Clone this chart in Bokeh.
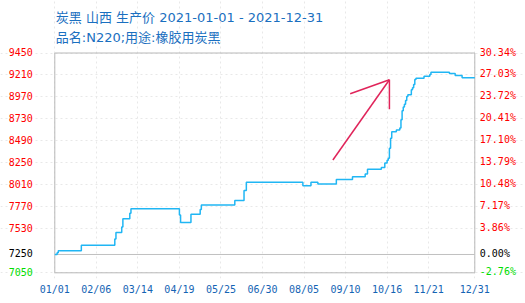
import pandas as pd
from bokeh.plotting import figure
from bokeh.models import ColumnDataSource, FixedTicker, Range1d, DatetimeTickFormatter
from bokeh.embed import file_html
from bokeh.resources import INLINE
from bokeh.core.properties import value

# ---- text ----
title_line1 = "炭黑 山西 生产价 2021-01-01 - 2021-12-31"
title_line2 = "品名:N220;用途:橡胶用炭黑"

# ---- price series (dates where the price changed, and the new price) ----
change_dates = [
    "2021-01-01", "2021-01-03", "2021-01-04", "2021-01-24", "2021-02-22", "2021-02-23",
    "2021-02-28", "2021-03-01", "2021-03-07", "2021-03-08", "2021-04-19", "2021-04-20",
    "2021-04-29", "2021-05-07", "2021-05-08", "2021-06-06", "2021-06-14", "2021-06-16",
    "2021-08-04", "2021-08-11", "2021-08-17", "2021-09-02", "2021-09-16", "2021-09-27",
    "2021-09-29", "2021-10-11", "2021-10-14", "2021-10-16", "2021-10-17", "2021-10-18",
    "2021-10-19", "2021-10-20", "2021-10-24", "2021-10-27", "2021-10-28", "2021-10-29",
    "2021-10-30", "2021-10-31", "2021-11-01", "2021-11-02", "2021-11-03", "2021-11-06",
    "2021-11-07", "2021-11-08", "2021-11-09", "2021-11-10", "2021-11-17", "2021-11-22",
    "2021-11-23", "2021-12-09", "2021-12-14", "2021-12-20",
]
change_prices = [
    7250, 7270, 7290, 7350, 7420, 7490,
    7550, 7640, 7700, 7750, 7680, 7600,
    7690, 7740, 7790, 7840, 7950, 8040,
    8000, 8040, 8020, 8070, 8100, 8130,
    8180, 8200, 8250, 8280, 8300, 8410,
    8520, 8590, 8610, 8630, 8720, 8820,
    8860, 8890, 8930, 8975, 8995, 9050,
    9070, 9105, 9160, 9175, 9195, 9215,
    9240, 9225, 9205, 9180,
]
end_date = "2021-12-31"

# ---- axes ----
base_price = 7250
y_ticks = [7050, 7250, 7530, 7770, 8010, 8250, 8490, 8730, 8970, 9210, 9450]
x_tick_dates = ["2021-01-01", "2021-02-06", "2021-03-14", "2021-04-19", "2021-05-25",
                "2021-06-30", "2021-08-05", "2021-09-10", "2021-10-16", "2021-11-21",
                "2021-12-31"]

# ---- arrow annotation (segments: start -> end) ----
arrow_x0 = ["2021-08-30", "2021-09-14", "2021-10-18"]
arrow_y0 = [8282, 9005, 9158]
arrow_x1 = ["2021-10-18", "2021-10-18", "2021-10-18"]
arrow_y1 = [9158, 9158, 8836]

# ---- derived ----
def ms(d):
    return pd.Timestamp(d).value / 1e6

xs = [pd.Timestamp(d) for d in change_dates] + [pd.Timestamp(end_date)]
ys = change_prices + [change_prices[-1]]

x_first = ms(change_dates[0])
x_last = ms(end_date)
y_lo, y_hi = y_ticks[0], y_ticks[-1]

# layout: canvas 525 x 303; plot box 54.3..474.3 (x) and 52.5..272.3 (y)
W, H, BOTTOM = 525, 303, 25
FH = H - BOTTOM                      # frame height (frame covers the canvas above the x axis)
box_l, box_r, box_t, box_b = 54.3, 474.3, 52.5, 272.3
mpp = (x_last - x_first) / (box_r - box_l)
vpp = (y_hi - y_lo) / (box_b - box_t)
x_range = Range1d(x_first - box_l * mpp, x_last + (W - box_r) * mpp)
y_range = Range1d(y_lo - (FH - box_b) * vpp, y_hi + box_t * vpp)

p = figure(width=W, height=H, output_backend="svg", toolbar_location=None,
           x_axis_type="datetime", x_range=x_range, y_range=y_range,
           min_border_left=0, min_border_right=0, min_border_top=0, min_border_bottom=BOTTOM)
p.background_fill_color = "white"
p.border_fill_color = "white"
p.outline_line_color = None
p.title.visible = False
p.yaxis.visible = False

# grids limited to the plot box
tick_ms = [ms(d) for d in x_tick_dates]
p.xgrid.ticker = FixedTicker(ticks=tick_ms)
p.xgrid.bounds = (y_lo, y_hi)
p.ygrid.ticker = FixedTicker(ticks=[v for v in y_ticks if v != base_price])
p.ygrid.bounds = (x_first, x_last)
for g in (p.xgrid, p.ygrid):
    g.grid_line_color = "#e8e8e8"
    g.grid_line_dash = "2 3"
    g.grid_line_width = 1

# x axis
fmt = "%m/%d"
p.xaxis.ticker = FixedTicker(ticks=tick_ms)
p.xaxis.formatter = DatetimeTickFormatter(milliseconds=fmt, seconds=fmt, minsec=fmt, minutes=fmt,
                                          hourmin=fmt, hours=fmt, days=fmt, months=fmt, years=fmt)
p.xaxis.axis_line_color = None
p.xaxis.major_tick_line_color = None
p.xaxis.minor_tick_line_color = None
p.xaxis.major_tick_out = 0
p.xaxis.major_tick_in = 0
p.xaxis.minor_tick_out = 0
p.xaxis.major_label_standoff = 5
p.xaxis.major_label_text_font = "DejaVu Sans Mono"
p.xaxis.major_label_text_font_size = "10px"
p.xaxis.major_label_text_color = "#1464b4"

# plot box and base-price line
p.quad(left=[pd.Timestamp(change_dates[0])], right=[pd.Timestamp(end_date)],
       bottom=[y_lo], top=[y_hi], fill_color=None, line_color="#b8b8b8", line_width=1)
p.segment(x0=[pd.Timestamp(change_dates[0])], x1=[pd.Timestamp(end_date)],
          y0=[base_price], y1=[base_price], line_color="#c0c0c0", line_width=1)

# price line
p.step(xs, ys, mode="after", line_color="#20b6f4", line_width=1.5)

# arrow
p.segment(x0=[pd.Timestamp(d) for d in arrow_x0], y0=arrow_y0,
          x1=[pd.Timestamp(d) for d in arrow_x1], y1=arrow_y1,
          line_color="#e0245a", line_width=1.5)

# y tick labels (left: price, right: percent change vs. base)
def col(v):
    if v > base_price:
        return "#ff0000"
    if v < base_price:
        return "#00dd00"
    return "#000000"

src = ColumnDataSource(dict(
    y=y_ticks,
    xl=[x_first] * len(y_ticks),
    xr=[x_last] * len(y_ticks),
    tl=[str(v) for v in y_ticks],
    tr=["%.2f%%" % ((v - base_price) / base_price * 100) for v in y_ticks],
    c=[col(v) for v in y_ticks],
))
p.text(x="xl", y="y", text="tl", source=src, x_offset=-22, y_offset=-1,
       text_align="right", text_baseline="middle", text_color="c",
       text_font=value("DejaVu Sans Mono"), text_font_size="10px")
p.text(x="xr", y="y", text="tr", source=src, x_offset=5, y_offset=-1,
       text_align="left", text_baseline="middle", text_color="c",
       text_font=value("DejaVu Sans Mono"), text_font_size="10px")

# titles
p.text(x=[x_first, x_first], y=[y_hi, y_hi], text=[title_line1, title_line2],
       x_offset=1, y_offset=[-35.5, -15.5],
       text_align="left", text_baseline="middle", text_color="#1a6fc0",
       text_font=value("DejaVu Sans, Noto Sans CJK SC"), text_font_size="13px")

open("out.html", "w").write(file_html(p, INLINE))
